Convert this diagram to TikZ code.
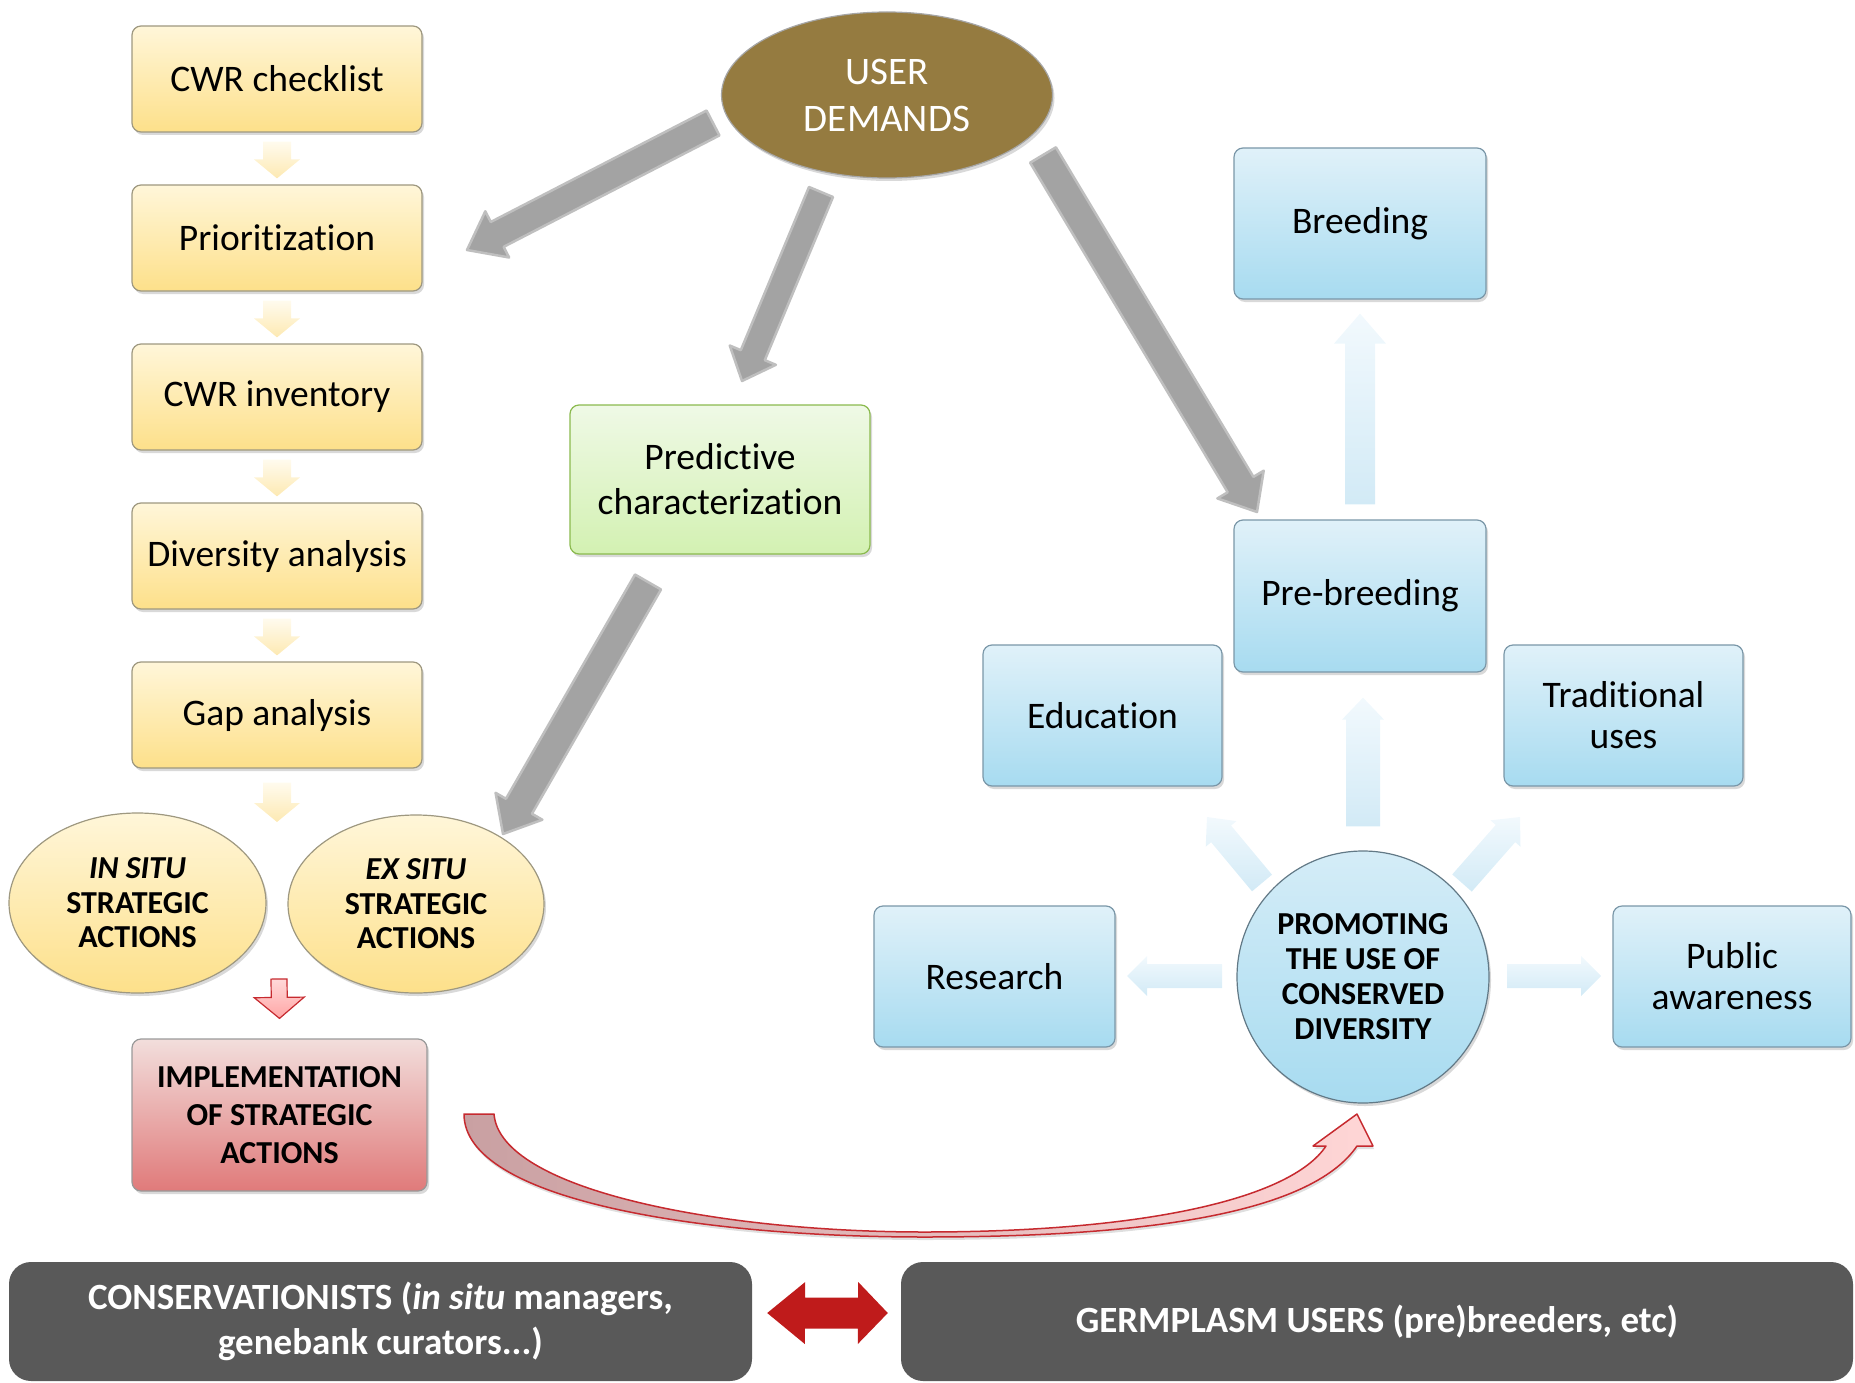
\documentclass[tikz,border=0pt]{standalone}
\usepackage{fontspec}
\setmainfont{Carlito}[Ligatures=NoCommon]
\usetikzlibrary{calc,shapes.geometric,shadows}

\definecolor{ytop}{HTML}{FFF6D9}
\definecolor{ybot}{HTML}{FDE08A}
\definecolor{ybord}{HTML}{9E9880}
\definecolor{btop}{HTML}{E0F1F9}
\definecolor{bbot}{HTML}{A7DBF0}
\definecolor{bbord}{HTML}{7A97A8}
\definecolor{gtop}{HTML}{EFF9E6}
\definecolor{gbot}{HTML}{D3F1B2}
\definecolor{gbord}{HTML}{8BBA4E}
\definecolor{brownud}{HTML}{957B40}
\definecolor{rtop}{HTML}{F2DEDC}
\definecolor{rbot}{HTML}{E07A7A}
\definecolor{dgray}{HTML}{595959}
\definecolor{dred}{HTML}{BF1B1B}
\definecolor{garr}{HTML}{A3A3A3}
\definecolor{redline}{HTML}{C62A2F}
\definecolor{rleft}{HTML}{C9A0A2}
\definecolor{rright}{HTML}{FFD6D6}
\definecolor{yatop}{HTML}{FFFBEE}
\definecolor{yabot}{HTML}{FDE9B2}
\definecolor{batop}{HTML}{F2F9FD}
\definecolor{babot}{HTML}{D2EAF6}

\newcommand\blockarr[6]{%
  \coordinate (ba-h) at ($(#3)!#6!(#2)$);
  \path[#1] ($(#2)!#4!90:(#3)$) -- ($(ba-h)!#4!-90:(#2)$) -- ($(ba-h)!#5!-90:(#2)$) -- (#3)
    -- ($(ba-h)!#5!90:(#2)$) -- ($(ba-h)!#4!90:(#2)$) -- ($(#2)!#4!-90:(#3)$) -- cycle;
}

\tikzset{
  shad/.style={drop shadow={opacity=0.3, shadow xshift=2pt, shadow yshift=-3pt}},
  regfont/.style={font=\fontsize{37.5}{45}\selectfont},
  boldfont/.style={font=\fontsize{32}{34.5}\selectfont\bfseries},
  ybox/.style={draw=ybord, line width=1.2pt, rounded corners=9pt, top color=ytop, bottom color=ybot,
    minimum width=290pt, minimum height=106pt, inner sep=0pt, align=center, regfont, shad},
  yell/.style={ellipse, draw=ybord, line width=1.2pt, top color=ytop, bottom color=ybot,
    minimum width=257pt, minimum height=180pt, inner sep=0pt, align=center, boldfont, shad},
  bbox/.style={draw=bbord, line width=1.2pt, rounded corners=9pt, top color=btop, bottom color=bbot,
    inner sep=0pt, align=center, font=\fontsize{37.5}{41}\selectfont, shad},
  gbox/.style={draw=gbord, line width=1.2pt, rounded corners=9pt, top color=gtop, bottom color=gbot,
    inner sep=0pt, align=center, font=\fontsize{37.5}{45}\selectfont, shad},
  rbox/.style={draw=gray!80, line width=1.2pt, rounded corners=9pt, top color=rtop, bottom color=rbot,
    inner sep=0pt, align=center, font=\fontsize{32}{38}\selectfont\bfseries, shad},
  dbox/.style={fill=dgray, rounded corners=22pt, inner sep=0pt, align=center, text=white,
    font=\fontsize{37}{45}\selectfont\bfseries},
  grayarr/.style={fill=garr, draw=garr!70, line width=2.5pt, line join=round},
  yarr/.style={top color=yatop, bottom color=yabot},
  barr/.style={top color=batop, bottom color=babot},
  rdarr/.style={draw=redline, line width=1.2pt, top color=white!85!red, bottom color=red!35},
}

\begin{document}
\begin{tikzpicture}[x=1pt,y=-1pt]
\useasboundingbox (0,0) rectangle (1855,1383);

% gray arrows (behind)
\coordinate (g1s) at (713,123); \coordinate (g1e) at (467,250);
\coordinate (g2s) at (821,192); \coordinate (g2e) at (742,381);
\coordinate (g3s) at (1043,155); \coordinate (g3e) at (1257,512);
\coordinate (g4s) at (648,582); \coordinate (g4e) at (503,834);
\blockarr{grayarr}{g1s}{g1e}{14pt}{26pt}{34pt}
\blockarr{grayarr}{g2s}{g2e}{13pt}{25pt}{28pt}
\blockarr{grayarr}{g3s}{g3e}{15pt}{27pt}{32pt}
\blockarr{grayarr}{g4s}{g4e}{15pt}{27pt}{32pt}

% left column
\node[ybox] (b1) at (277,79) {CWR checklist};
\node[ybox] (b2) at (277,238) {Prioritization};
\node[ybox] (b3) at (277,397) {CWR inventory};
\node[ybox] (b4) at (277,556) {Diversity analysis};
\node[ybox] (b5) at (277,715) {Gap analysis};

\node[yell] (insitu) at (137.5,903) {\textit{IN SITU}\\STRATEGIC\\ACTIONS};
\node[yell, minimum height=178pt, minimum width=256pt] (exsitu) at (416,904) {\textit{EX SITU}\\STRATEGIC\\ACTIONS};

\node[rbox, minimum width=295pt, minimum height=152pt] (impl) at (279.5,1115) {IMPLEMENTATION\\OF STRATEGIC\\ACTIONS};

% small yellow arrows
\foreach \a/\b in {b1/b2, b2/b3, b3/b4, b4/b5}{
  \coordinate (ys) at ($(\a.south)+(0,9)$);
  \coordinate (ye) at ($(\b.north)+(0,-6)$);
  \blockarr{yarr}{ys}{ye}{14pt}{23pt}{19pt}
}
\coordinate (y5s) at ($(b5.south)+(0,14)$);
\coordinate (y5e) at (277,822);
\blockarr{yarr}{y5s}{y5e}{14pt}{23pt}{19pt}

% red down arrow
\coordinate (rds) at (279,979);
\coordinate (rde) at ($(impl.north)+(0,-20)$);
\blockarr{rdarr}{rds}{rde}{8pt}{25pt}{21pt}

% user demands
\node[ellipse, fill=brownud, draw=gray!70, line width=1.2pt, minimum width=331pt, minimum height=166pt,
  inner sep=0pt, align=center, text=white, font=\fontsize{39}{47}\selectfont, shad] (ud) at (887,95) {USER\\DEMANDS};

% predictive
\node[gbox, minimum width=300pt, minimum height=149pt] (pred) at (720,479.5) {Predictive\\characterization};

% blue boxes
\node[bbox, minimum width=252pt, minimum height=151pt] (breed) at (1360,223.5) {Breeding};
\node[bbox, minimum width=252pt, minimum height=152pt] (prebreed) at (1360,596) {Pre-breeding};
\node[bbox, minimum width=239pt, minimum height=141pt] (edu) at (1102.5,715.5) {Education};
\node[bbox, minimum width=239pt, minimum height=141pt] (trad) at (1623.5,715.5) {Traditional\\uses};
\node[bbox, minimum width=241pt, minimum height=141pt] (research) at (994.5,976.5) {Research};
\node[bbox, minimum width=238pt, minimum height=141pt] (public) at (1732,976.5) {Public\\awareness};
\node[circle, draw=bbord!80!black, line width=1.2pt, top color=btop!80!bbot, bottom color=bbot,
  minimum size=252pt, inner sep=0pt, align=center, font=\fontsize{32}{35}\selectfont\bfseries, shad]
  (circ) at (1363,977) {PROMOTING\\THE USE OF\\CONSERVED\\DIVERSITY};

% light blue arrows
\coordinate (u1s) at ($(prebreed.north)+(0,-15)$); \coordinate (u1e) at ($(breed.south)+(0,14)$);
\blockarr{barr}{u1s}{u1e}{15pt}{26pt}{30pt}
\coordinate (u2s) at ($(circ.north)+(0,-24)$); \coordinate (u2e) at ($(prebreed.south)+(3,25)$);
\blockarr{barr}{u2s}{u2e}{17pt}{21pt}{22pt}
\coordinate (l1s) at (1222,976); \coordinate (l1e) at (1127,976);
\blockarr{barr}{l1s}{l1e}{12pt}{20pt}{20pt}
\coordinate (r1s) at (1507,976); \coordinate (r1e) at (1601,976);
\blockarr{barr}{r1s}{r1e}{12pt}{20pt}{20pt}
\coordinate (dls) at (1262,883); \coordinate (dle) at (1207,817);
\blockarr{barr}{dls}{dle}{13pt}{20pt}{22pt}
\coordinate (drs) at (1462,883); \coordinate (dre) at (1520,817);
\blockarr{barr}{drs}{dre}{13pt}{20pt}{22pt}

% red curved arrow
\coordinate (ct1) at (464,1114);
\coordinate (ctip) at (1357,1114);
\path[draw=redline, line width=1.5pt, line join=round, left color=rleft, right color=rright,
  drop shadow={opacity=0.25, shadow xshift=1pt, shadow yshift=-3pt}]
  (ct1) -- (494,1114)
  .. controls (500,1190) and (720,1232) .. (924,1232)
  .. controls (1140,1232) and (1290,1200) .. (1326,1146)
  -- (1313,1146) -- (ctip) -- (1373,1146) -- (1357,1146)
  .. controls (1310,1215) and (1140,1237) .. (924,1237)
  .. controls (700,1237) and (464,1200) .. (ct1) -- cycle;

% bottom boxes
\node[dbox, minimum width=743pt, minimum height=119pt] (cons) at (380.5,1321.5)
  {CONSERVATIONISTS (\textit{in situ} managers,\\genebank curators...)};
\node[dbox, minimum width=952pt, minimum height=119pt] (users) at (1377,1321.5)
  {GERMPLASM USERS (pre)breeders, etc)};

% double red arrow
\coordinate (dl) at ($(cons.east)+(15,-8.5)$);
\coordinate (dr) at ($(users.west)+(-13,-8.5)$);
\fill[dred] (dl) -- ++(38,-31) -- ++(0,15.5) -- ++(53,0) -- ++(0,-15.5) -- (dr)
  -- ++(-30,31) -- ++(0,-15.5) -- ++(-53,0) -- ++(0,15.5) -- cycle;
\end{tikzpicture}
\end{document}
